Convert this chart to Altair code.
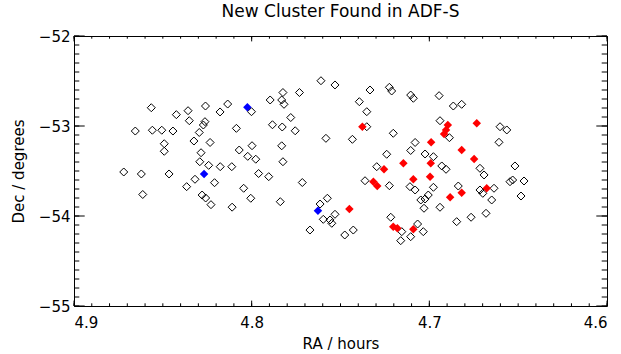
import altair as alt
import pandas as pd

# Open (black outline) diamonds: RA (hours), Dec (degrees)
open_ra = [4.8565, 4.8424, 4.8358, 4.8351, 4.8260, 4.8178, 4.8135, 4.8001, 4.8655, 4.8559,
           4.8506, 4.8443, 4.8263, 4.8272, 4.8295, 4.8325, 4.8234, 4.8086, 4.8492, 4.8492,
           4.8285, 4.8292, 4.8242, 4.8177, 4.8112, 4.8070, 4.7998, 4.8022, 4.7977, 4.8720,
           4.8621, 4.8465, 4.8319, 4.8366, 4.8209, 4.8613, 4.8279, 4.8259, 4.8229, 4.8110,
           4.8045, 4.8005, 4.7961, 4.7904, 4.7896, 4.7824, 4.7831, 4.7818, 4.7731, 4.7883,
           4.7828, 4.7780, 4.7755, 4.7831, 4.7824, 4.7715, 4.7839, 4.7672, 4.7610, 4.7531,
           4.7582, 4.7433, 4.7394, 4.7352, 4.7334, 4.7225, 4.7212, 4.7105, 4.7090, 4.7352,
           4.7203, 4.7080, 4.7105, 4.7240, 4.7296, 4.7362, 4.7225, 4.7109, 4.7080, 4.7615,
           4.7574, 4.7531, 4.7597, 4.7559, 4.7549, 4.7476, 4.7428, 4.7217, 4.7155, 4.7161,
           4.7105, 4.7066, 4.7034, 4.6945, 4.6865, 4.6818, 4.6940, 4.6887, 4.6602, 4.6564,
           4.6608, 4.7024, 4.6977, 4.6930, 4.6906, 4.6715, 4.6692, 4.6518, 4.6977, 4.7006,
           4.7024, 4.7048, 4.7030, 4.6940, 4.6837, 4.6715, 4.6699, 4.6636, 4.6649, 4.6681,
           4.6765, 4.6846, 4.6546, 4.6531, 4.6467, 4.6484]
open_dec = [-52.797, -52.874, -52.830, -52.941, -52.778, -52.844, -52.756, -52.841, -53.056, -53.047,
            -53.047, -53.056, -52.952, -52.989, -53.072, -53.167, -53.183, -53.026, -53.197, -53.281,
            -53.297, -53.397, -53.437, -53.452, -53.452, -53.267, -53.219, -53.337, -53.369, -53.511,
            -53.533, -53.533, -53.592, -53.674, -53.630, -53.761, -53.767, -53.800, -53.874, -53.902,
            -53.692, -53.803, -53.528, -53.563, -52.711, -52.628, -52.711, -52.759, -52.628, -52.986,
            -53.011, -52.906, -53.053, -53.220, -53.397, -53.628, -53.841, -54.156, -52.497, -52.544,
            -53.137, -53.148, -52.730, -52.841, -52.600, -52.570, -52.611, -52.656, -52.692, -53.008,
            -53.081, -53.183, -53.272, -53.314, -53.452, -53.608, -53.663, -53.674, -53.711, -53.867,
            -53.803, -53.981, -54.037, -54.044, -54.081, -54.211, -54.156, -54.014, -54.174, -54.274,
            -54.230, -54.089, -54.174, -52.663, -52.778, -52.759, -52.941, -53.130, -53.008, -53.044,
            -53.181, -53.311, -53.341, -53.444, -53.481, -53.470, -53.544, -53.444, -53.681, -53.767,
            -53.811, -53.822, -53.914, -53.903, -53.667, -53.711, -53.748, -53.692, -53.822, -53.970,
            -54.014, -54.063, -53.619, -53.600, -53.611, -53.778]

# Red filled diamonds (new cluster members)
red_ra = [4.7377, 4.7146, 4.7255, 4.7090, 4.7315, 4.7293, 4.7450, 4.7203, 4.7180, 4.7090,
          4.6896, 4.6906, 4.6917, 4.6733, 4.6990, 4.6818, 4.6748, 4.6992, 4.6996, 4.6883,
          4.6818, 4.6677]
red_dec = [-53.008, -53.414, -53.481, -53.592, -53.619, -53.667, -53.922, -54.119, -54.137, -54.148,
           -52.989, -53.044, -53.089, -52.970, -53.181, -53.267, -53.367, -53.414, -53.563, -53.792,
           -53.741, -53.692]

# Blue filled diamonds
blue_ra = [4.8024, 4.8268, 4.7627]
blue_dec = [-52.792, -53.533, -53.941]

# Axis tick values
x_major = [4.9, 4.8, 4.7, 4.6]
x_minor = [4.60, 4.61, 4.62, 4.63, 4.64, 4.65, 4.66, 4.67, 4.68, 4.69,
           4.70, 4.71, 4.72, 4.73, 4.74, 4.75, 4.76, 4.77, 4.78, 4.79,
           4.80, 4.81, 4.82, 4.83, 4.84, 4.85, 4.86, 4.87, 4.88, 4.89, 4.90]
y_major = [-55, -54, -53, -52]
y_minor = [-55.0, -54.9, -54.8, -54.7, -54.6, -54.5, -54.4, -54.3, -54.2, -54.1,
           -54.0, -53.9, -53.8, -53.7, -53.6, -53.5, -53.4, -53.3, -53.2, -53.1,
           -53.0, -52.9, -52.8, -52.7, -52.6, -52.5, -52.4, -52.3, -52.2, -52.1, -52.0]

W, H = 533, 270
FONT = "DejaVu Sans"

xs = alt.Scale(domain=[4.6, 4.9], reverse=True, nice=False, zero=False)
ys = alt.Scale(domain=[-55, -52], nice=False, zero=False)

x_axis = alt.Axis(values=x_major, format=".1f", ticks=False, domain=False, grid=False,
                  labelPadding=9, labelFontSize=15, labelFont=FONT, labelColor="black",
                  title="RA / hours", titleFontSize=15, titleFont=FONT, titleFontWeight="normal",
                  titleColor="black", titlePadding=6)
y_axis = alt.Axis(values=y_major, format="d", ticks=False, domain=False, grid=False,
                  labelPadding=4, labelFontSize=15, labelFont=FONT, labelColor="black",
                  title="Dec / degrees", titleFontSize=15, titleFont=FONT, titleFontWeight="normal",
                  titleColor="black", titlePadding=12)

df_open = pd.DataFrame({"ra": open_ra, "dec": open_dec})
df_red = pd.DataFrame({"ra": red_ra, "dec": red_dec})
df_blue = pd.DataFrame({"ra": blue_ra, "dec": blue_dec})

open_layer = alt.Chart(df_open).mark_point(
    shape="diamond", filled=False, stroke="black", strokeWidth=1, size=64, opacity=1
).encode(x=alt.X("ra:Q", scale=xs, axis=x_axis), y=alt.Y("dec:Q", scale=ys, axis=y_axis))

red_layer = alt.Chart(df_red).mark_point(
    shape="diamond", filled=True, color="#ff0000", size=72, opacity=1
).encode(x=alt.X("ra:Q", scale=xs), y=alt.Y("dec:Q", scale=ys))

blue_layer = alt.Chart(df_blue).mark_point(
    shape="diamond", filled=True, color="#0000ff", size=72, opacity=1
).encode(x=alt.X("ra:Q", scale=xs), y=alt.Y("dec:Q", scale=ys))


def xticks(vals, length, top):
    d = pd.DataFrame({"t": vals})
    y0, y1 = (0, length) if top else (H, H - length)
    return alt.Chart(d).mark_rule(color="black", strokeWidth=1).encode(
        x=alt.X("t:Q", scale=xs), y=alt.value(y0), y2=alt.value(y1))


def yticks(vals, length, right):
    d = pd.DataFrame({"t": vals})
    x0, x1 = (W, W - length) if right else (0, length)
    return alt.Chart(d).mark_rule(color="black", strokeWidth=1).encode(
        y=alt.Y("t:Q", scale=ys), x=alt.value(x0), x2=alt.value(x1))


ticks = [
    xticks(x_minor, 2.7, False), xticks(x_minor, 2.7, True),
    xticks(x_major, 5.4, False), xticks(x_major, 5.4, True),
    yticks(y_minor, 5.3, False), yticks(y_minor, 5.3, True),
    yticks(y_major, 10.7, False), yticks(y_major, 10.7, True),
]

chart = alt.layer(open_layer, *ticks, red_layer, blue_layer).properties(
    width=W, height=H,
    padding={"left": 74, "top": 36, "right": 14, "bottom": 48},
    autosize=alt.AutoSizeParams(type="none"),
    title=alt.TitleParams("New Cluster Found in ADF-S", fontSize=17, font=FONT,
                          fontWeight="normal", color="black", anchor="middle", offset=8),
    background="white",
).configure_view(stroke="black", strokeWidth=1)

chart.save("out.html", embed_options={"renderer": "svg", "actions": False})
